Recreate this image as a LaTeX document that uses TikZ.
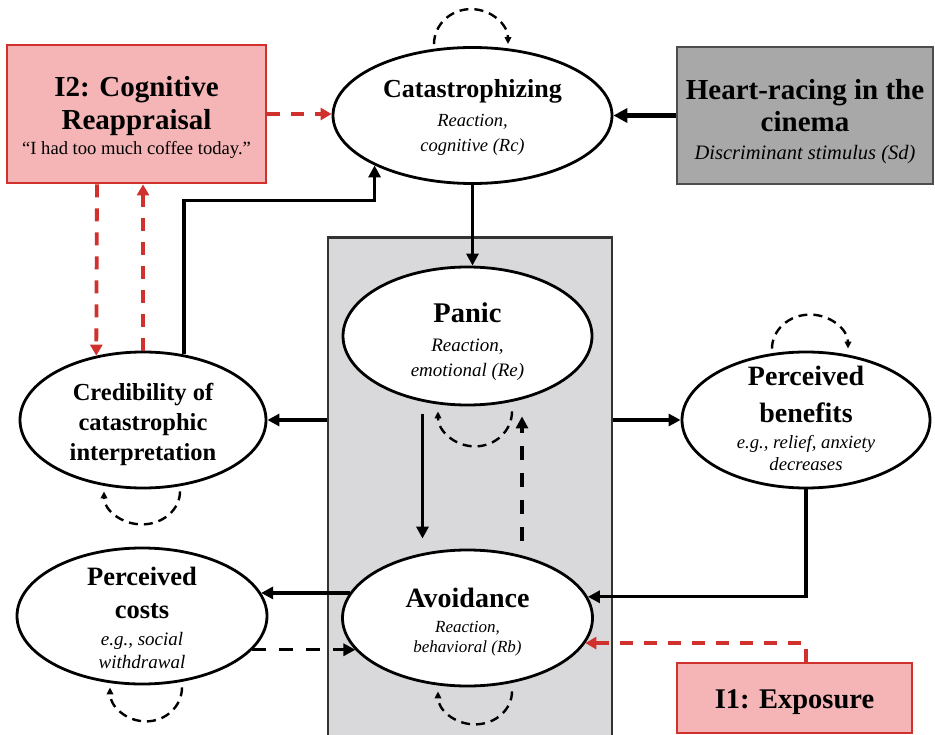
\documentclass[tikz,border=0pt]{standalone}
\usepackage{fontspec}
\setmainfont{Liberation Serif}
\usetikzlibrary{arrows.meta,shapes.geometric,calc}
\definecolor{ivred}{HTML}{D0312D}
\definecolor{ivpink}{HTML}{F5B4B6}
\definecolor{stimgray}{HTML}{A8A8A8}
\definecolor{coregray}{HTML}{D9D9DB}

\begin{document}
\begin{tikzpicture}[x=1pt,y=-1pt,
  state/.style={ellipse, draw=black, line width=2.8pt, fill=white, inner sep=0pt},
  ivbox/.style={rectangle, draw=ivred, line width=2.8pt, fill=ivpink, inner sep=0pt},
  stimbox/.style={rectangle, draw=black!70, line width=2.8pt, fill=stimgray, inner sep=0pt},
  corebox/.style={rectangle, draw=black!80, line width=2.2pt, fill=coregray, inner sep=0pt},
  ttl/.style={anchor=base, inner sep=0pt, font=\fontsize{#1}{#1}\selectfont\bfseries},
  sub/.style={anchor=base, inner sep=0pt, font=\fontsize{#1}{#1}\selectfont\itshape},
  plain/.style={anchor=base, inner sep=0pt, font=\fontsize{#1}{#1}\selectfont},
  arr/.style={line width=3.4pt, -{Triangle[length=12pt,width=12pt]}},
  bigarr/.style={line width=4.8pt, -{Triangle[length=14pt,width=14pt]}},
  darr/.style={line width=3.4pt, dash pattern=on 14pt off 13pt, -{Triangle[length=12pt,width=12pt]}},
  ivarr/.style={draw=ivred, line width=3.8pt, dash pattern=on 13pt off 11pt,
    -{Triangle[length=11pt,width=12pt,fill=ivred]}},
  selfloop/.style={line width=2.4pt, dash pattern=on 9pt off 6pt, -{Triangle[length=7pt,width=6.5pt]}}
]
\useasboundingbox (0,0) rectangle (935,735);

% central block holding the three reactions
\node[corebox, minimum width=284pt, minimum height=500pt] (core) at (470,487.5) {};

% boxes
\node[ivbox, minimum width=259pt, minimum height=138pt] (i2) at (136.5,114) {};
\node[stimbox, minimum width=256pt, minimum height=137pt] (heart) at (805,115.5) {};
\node[ivbox, minimum width=235pt, minimum height=70pt] (i1) at (794.5,698) {};

% states
\node[state, minimum width=279pt, minimum height=136pt] (cat) at (472.5,115.5) {};
\node[state, minimum width=249pt, minimum height=138pt] (panic) at (467.5,336) {};
\node[state, minimum width=250pt, minimum height=136pt] (avoid) at (467.5,618) {};
\node[state, minimum width=246pt, minimum height=136pt] (cred) at (143,420) {};
\node[state, minimum width=248pt, minimum height=136pt] (ben) at (806,420) {};
\node[state, minimum width=250pt, minimum height=136pt] (costs) at (142,616) {};

% labels
\node[ttl=29] (i2-t1) at (136.5,97) {I2: Cognitive};
\node[ttl=29] (i2-t2) at (136.5,130) {Reappraisal};
\node[plain=18.6] (i2-s) at (136.5,155) {“I had too much coffee today.”};

\node[ttl=29] (heart-t1) at (805,100) {Heart-racing in the};
\node[ttl=29] (heart-t2) at (805,132) {cinema};
\node[sub=20.5] (heart-s) at (805,160) {Discriminant stimulus (Sd)};

\node[ttl=28.5] (i1-t) at (794.5,708) {I1: Exposure};

\node[ttl=26] (cat-t) at (472.5,98) {Catastrophizing};
\node[sub=18.5] (cat-s1) at (472.5,127) {Reaction,};
\node[sub=18.5] (cat-s2) at (472.5,152) {cognitive (Rc)};

\node[ttl=28.5] (panic-t) at (467.5,323) {Panic};
\node[sub=19] (panic-s1) at (467.5,352) {Reaction,};
\node[sub=19] (panic-s2) at (467.5,377) {emotional (Re)};

\node[ttl=28] (avoid-t) at (467.5,607) {Avoidance};
\node[sub=17] (avoid-s1) at (467.5,632) {Reaction,};
\node[sub=17] (avoid-s2) at (467.5,652) {behavioral (Rb)};

\node[ttl=24.5] (cred-t1) at (143,400) {Credibility of};
\node[ttl=24.5] (cred-t2) at (143,430) {catastrophic};
\node[ttl=24.5] (cred-t3) at (143,460) {interpretation};

\node[ttl=28] (ben-t1) at (806,385) {Perceived};
\node[ttl=28] (ben-t2) at (806,422) {benefits};
\node[sub=18.7] (ben-s1) at (806,448) {e.g., relief, anxiety};
\node[sub=18.7] (ben-s2) at (806,470) {decreases};

\node[ttl=26.5] (costs-t1) at (142,585) {Perceived};
\node[ttl=26.5] (costs-t2) at (142,618) {costs};
\node[sub=19] (costs-s1) at (142,645) {e.g., social};
\node[sub=19] (costs-s2) at (142,668) {withdrawal};

% connectors
\draw[bigarr] (heart.west) -- (cat.east);
\draw[ivarr] (i2.east) -- (i2.east -| cat.west);
\draw[arr] (cat.south) -- (cat.south |- panic.north);
\draw[arr] (core.west |- cred.east) -- (cred.east);
\draw[arr] (core.east |- ben.west) -- (ben.west);
\draw[arr, shorten <=8pt, shorten >=10pt] ([xshift=-45pt]panic.south) -- ([xshift=-45pt]avoid.north);
\draw[darr, shorten <=8pt, shorten >=10pt] ([xshift=54.5pt]avoid.north) -- ([xshift=54.5pt]panic.south);
\draw[arr] (avoid.168) -- (avoid.168 -| costs.11);
\draw[darr] (costs.-17) -- (costs.-17 -| avoid.196);
\draw[arr] (ben.south) |- (avoid.10);
\draw[ivarr] (i1.north -| ben.south) |- (avoid.-12);
\draw[arr] (cred.58) -- ++(0,-154) -| (cat.207);
\draw[ivarr] ([xshift=-39.5pt]i2.south) -- (cred.126);
\draw[ivarr] (cred.north) -- (cred.north |- i2.south);

% self-loops
\draw[selfloop] ($(cat.north)+(-38.5,-2)$) arc[start angle=180, end angle=0, x radius=37pt, y radius=35pt];
\draw[selfloop] ($(ben.north)+(-34,-2)$) arc[start angle=180, end angle=0, x radius=38pt, y radius=34pt];
\draw[selfloop] ($(panic.south)+(44.5,5)$) arc[start angle=360, end angle=180, x radius=37pt, y radius=35pt];
\draw[selfloop] ($(avoid.south)+(44.5,4)$) arc[start angle=360, end angle=180, x radius=37pt, y radius=33pt];
\draw[selfloop] ($(cred.south)+(37,2)$) arc[start angle=360, end angle=180, x radius=38pt, y radius=33pt];
\draw[selfloop] ($(costs.south)+(40,2)$) arc[start angle=360, end angle=180, x radius=36pt, y radius=34pt];
\end{tikzpicture}
\end{document}
